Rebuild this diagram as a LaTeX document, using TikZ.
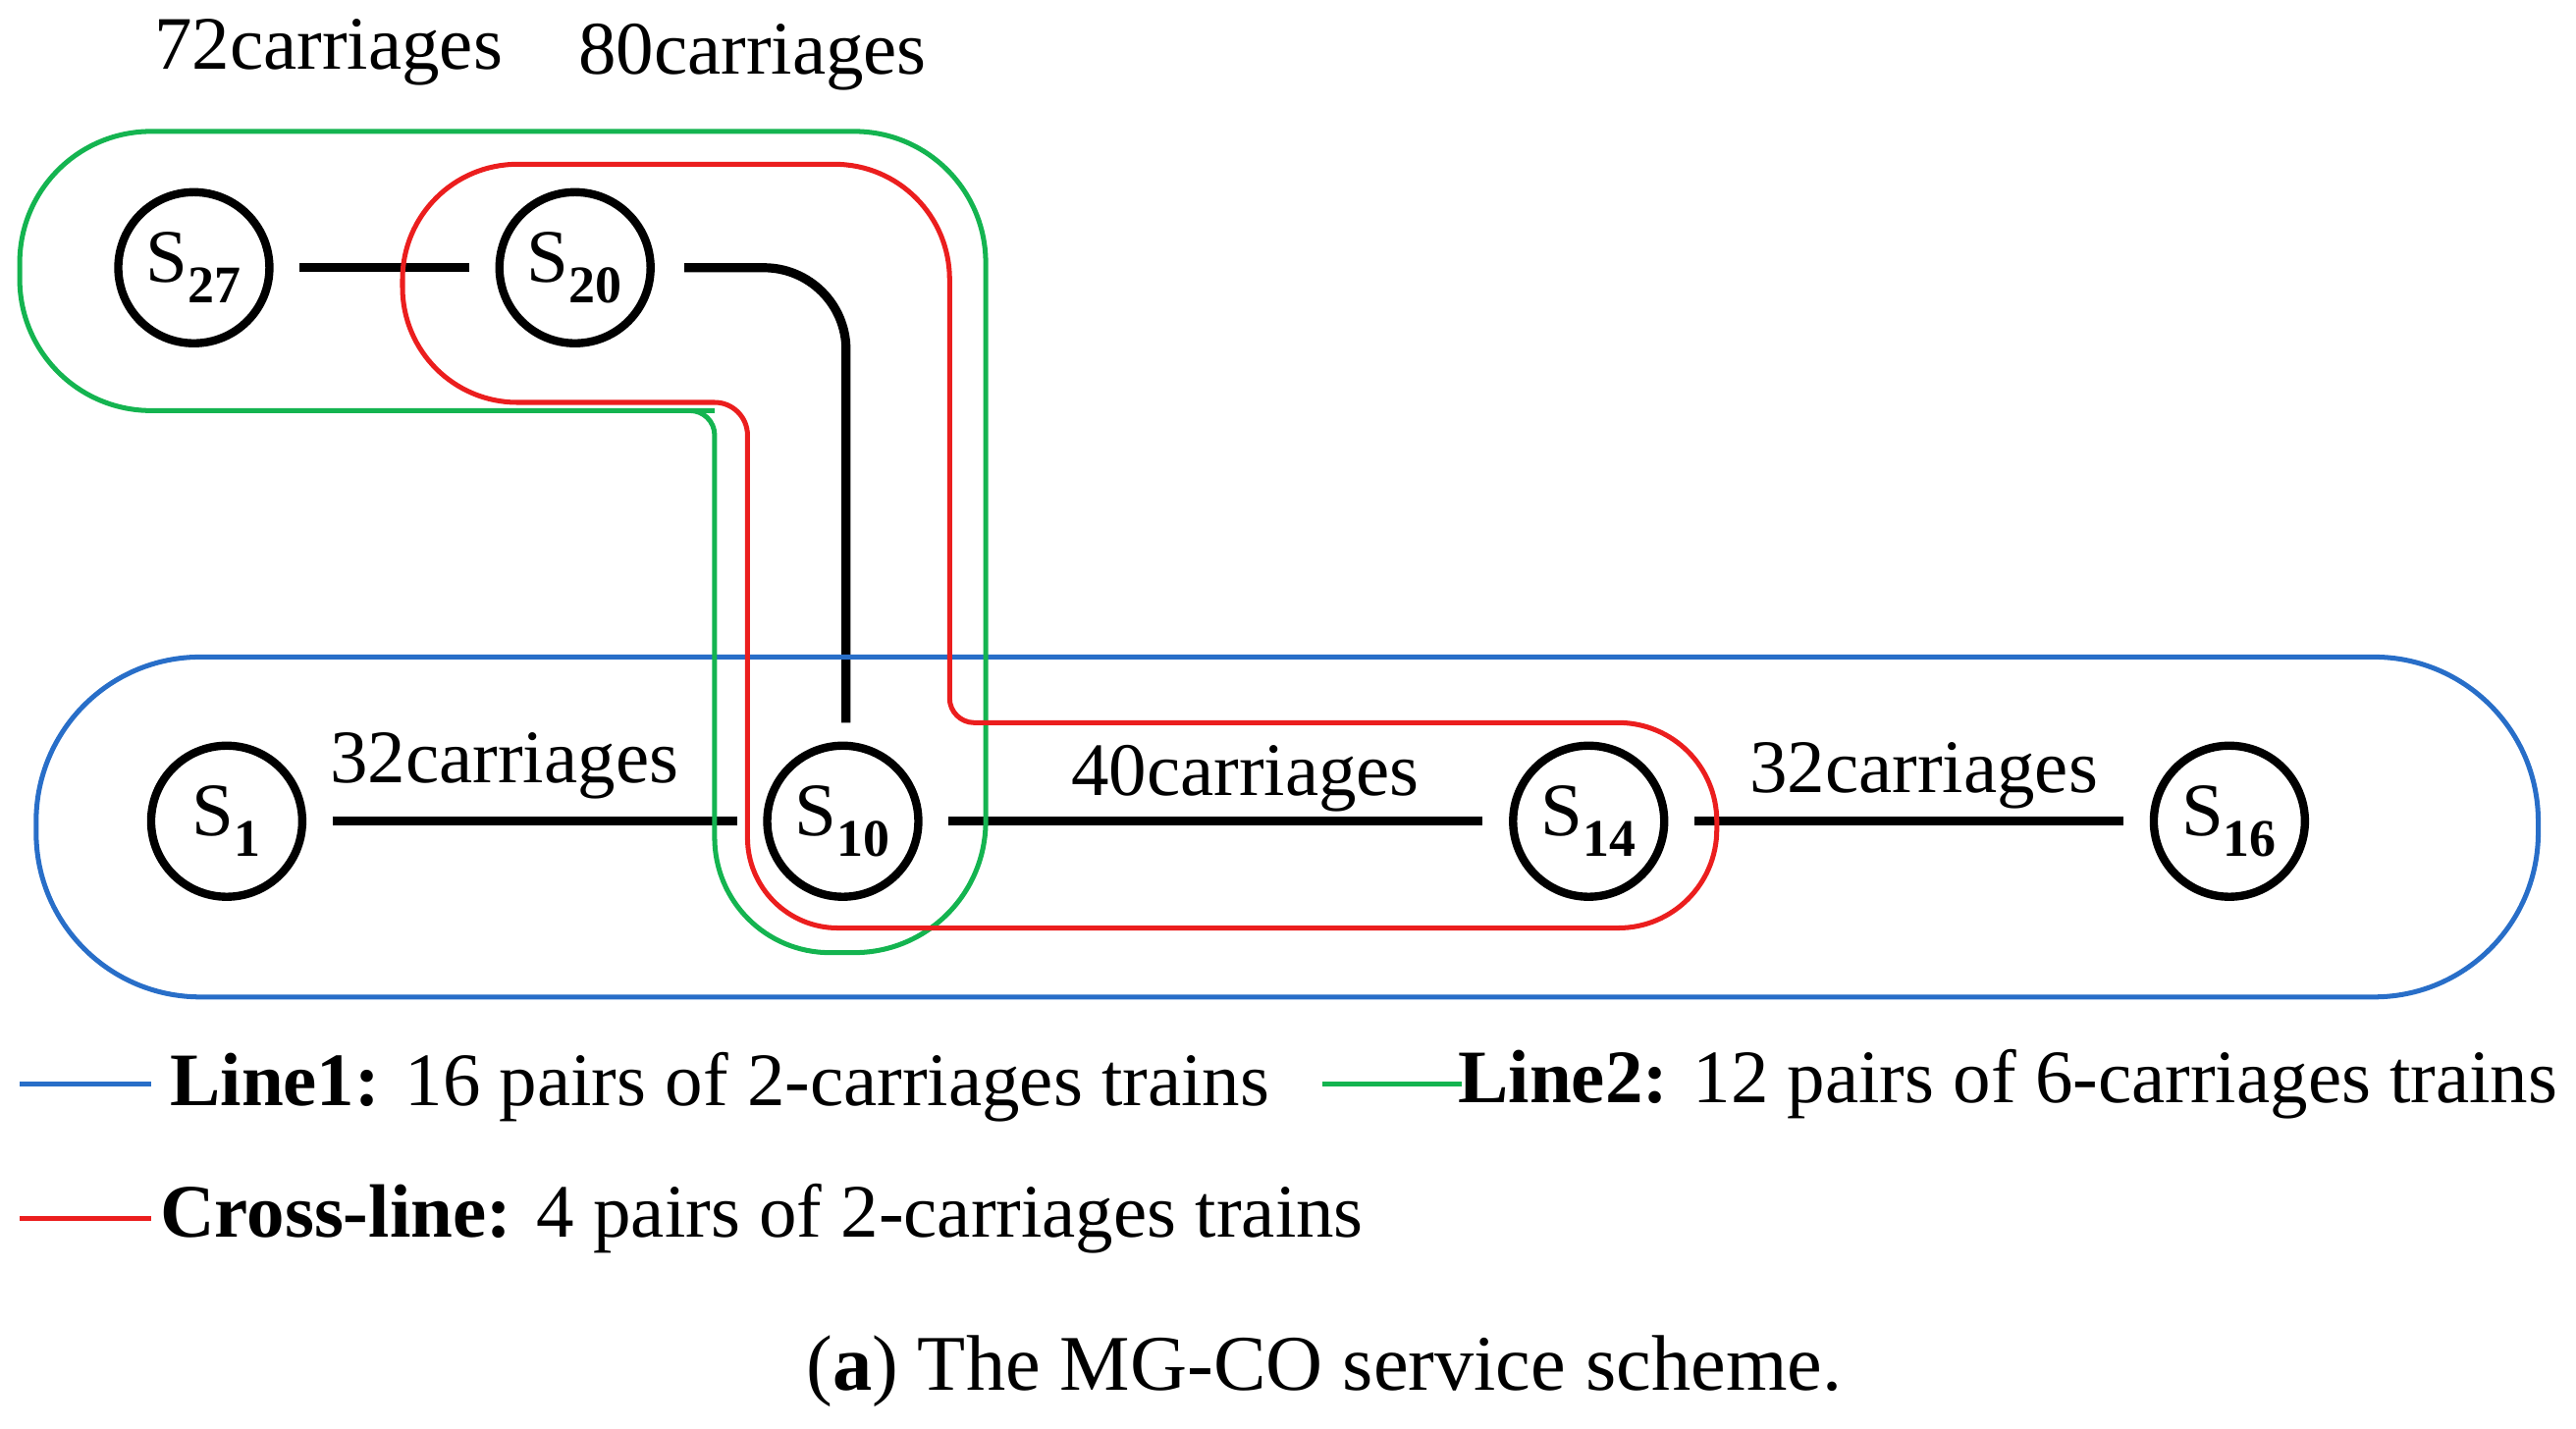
\documentclass[tikz,border=0pt]{standalone}
\usepackage{fontspec}
\setmainfont{Liberation Serif}
\definecolor{lblue}{RGB}{40,110,200}
\definecolor{lgreen}{RGB}{20,180,80}
\definecolor{lred}{RGB}{235,30,30}
\begin{document}
\begin{tikzpicture}[x=1pt,y=-1pt,
  st/.style={circle,draw,line width=5pt,minimum size=92pt,inner sep=0pt,font=\fontsize{46}{50}\selectfont},
  ed/.style={line width=5.5pt,shorten >=16pt,shorten <=16pt},
  lab/.style={font=\fontsize{46}{52}\selectfont},
  cl/.style={line width=3pt,rounded corners=80pt}]
\useasboundingbox (0,0) rectangle (1568,870);
\node[st] (s27) at (118,163) {S\textsubscript{\textbf{27}}};
\node[st] (s20) at (350,163) {S\textsubscript{\textbf{20}}};
\node[st] (s1) at (138,500) {S\textsubscript{\textbf{1}}};
\node[st] (s10) at (513,500) {S\textsubscript{\textbf{10}}};
\node[st] (s14) at (967,500) {S\textsubscript{\textbf{14}}};
\node[st] (s16) at (1357,500) {S\textsubscript{\textbf{16}}};
\draw[ed] (s27) -- (s20);
\draw[line width=5.5pt,rounded corners=50pt] (s20.east)++(18,0) coordinate (a) -- (515,163) -- (515,440) coordinate (b);
\draw[ed] (s1) -- (s10);
\draw[ed] (s10) -- (s14);
\draw[ed] (s14) -- (s16);
\node[lab] at (200,32) {72carriages};
\node[lab] at (458,35) {80carriages};
\node[lab] at (307,466) {32carriages};
\node[lab] at (758,474) {40carriages};
\node[lab] at (1171,472) {32carriages};
\draw[lblue,line width=3pt,rounded corners=100pt] (22,400) rectangle (1545,607);
\draw[lgreen,cl] (95,80) -- (600,80) -- (600,580) [rounded corners=70pt]-- (435,580) [rounded corners=15pt]-- (435,250) -- (420,250)[rounded corners=80pt] -- (12,250) -- (12,80) -- (95,80);
\draw[lred,line width=3pt,rounded corners=70pt] (330,100) -- (578,100) [rounded corners=15pt]-- (578,440) [rounded corners=60pt]-- (1045,440) -- (1045,565) [rounded corners=55pt]-- (455,565) [rounded corners=20pt]-- (455,245) [rounded corners=70pt]-- (245,245) -- (245,100) -- (330,100);
\coordinate (l1a) at (12,660); \coordinate (l1b) at (92,660);
\draw[lblue,line width=3pt] (l1a) -- (l1b);
\node[lab,anchor=west] at (100,662) {\textbf{Line1:} 16 pairs of 2-carriages trains};
\coordinate (l2a) at (805,660); \coordinate (l2b) at (890,660);
\draw[lgreen,line width=3pt] (l2a) -- (l2b);
\node[lab,anchor=west] at (884,660) {\textbf{Line2:} 12 pairs of 6-carriages trains};
\coordinate (l3a) at (12,742); \coordinate (l3b) at (92,742);
\draw[lred,line width=3pt] (l3a) -- (l3b);
\node[lab,anchor=west] at (94,742) {\textbf{Cross-line:} 4 pairs of 2-carriages trains};
\node[font=\fontsize{48}{54}\selectfont] at (806,835) {(\textbf{a}) The MG-CO service scheme.};
\end{tikzpicture}
\end{document}
